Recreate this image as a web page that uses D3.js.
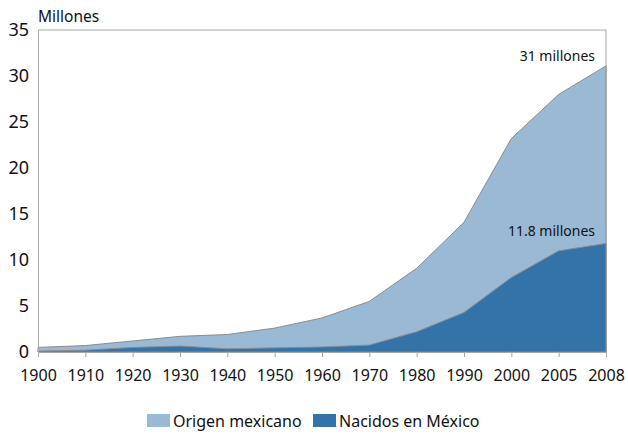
<!DOCTYPE html>
<html>
<head>
<meta charset="utf-8">
<script src="https://cdn.jsdelivr.net/npm/d3@7"></script>
<style>
  body { margin: 0; background: #fff; }
  text { font-family: "Noto Sans", "Open Sans", sans-serif; fill: #111; }
</style>
</head>
<body>
<svg id="chart" width="628" height="434"></svg>
<script>
// years on the x axis (equally spaced categories)
var years = ["1900","1910","1920","1930","1940","1950","1960","1970","1980","1990","2000","2005","2008"];
// millions
var origenMexicano = [0.5, 0.7, 1.2, 1.7, 1.9, 2.6, 3.7, 5.5, 9.1, 14.1, 23.2, 28.0, 31.1];
var nacidosMexico  = [0.1, 0.2, 0.5, 0.65, 0.35, 0.45, 0.55, 0.75, 2.2, 4.3, 8.1, 11.0, 11.8];
var yTicks = [0, 5, 10, 15, 20, 25, 30, 35];
var seriesNames = ["Origen mexicano", "Nacidos en México"];
var colors = ["#99b9d5", "#3473a8"];

// plot box (note: "top" is taken by window.top)
var plotL = 38, plotR = 606, plotT = 30, plotB = 352;

var svg = d3.select("#chart");

var x = d3.scalePoint().domain(years).range([plotL, plotR]);
var y = d3.scaleLinear().domain([0, 35]).range([plotB, plotT]);

// plot frame (top and right)
svg.append("path")
  .attr("d", "M" + plotL + "," + plotT + "H" + plotR + "V" + plotB)
  .attr("fill", "none")
  .attr("stroke", "#a6a6a6")
  .attr("stroke-width", 1);

function drawArea(vals, color) {
  var area = d3.area()
    .x(function(d, i) { return x(years[i]); })
    .y0(y(0))
    .y1(function(d) { return y(d); });
  svg.append("path")
    .datum(vals)
    .attr("d", area)
    .attr("fill", color)
    .attr("stroke", "#8c8c8c")
    .attr("stroke-width", 1);
}
drawArea(origenMexicano, colors[0]);
drawArea(nacidosMexico, colors[1]);

// y axis
var yAxis = svg.append("g")
  .attr("transform", "translate(" + plotL + ",0)")
  .call(d3.axisLeft(y).tickValues(yTicks).tickSize(0).tickPadding(9));
yAxis.select(".domain").attr("stroke", "#a6a6a6");
yAxis.selectAll("text").style("font-size", "18px").attr("fill", "#111")
  .style("font-family", "'Noto Sans', sans-serif");

// x axis
var xAxis = svg.append("g")
  .attr("transform", "translate(0," + plotB + ")")
  .call(d3.axisBottom(x).tickSizeInner(5).tickSizeOuter(0).tickPadding(13));
xAxis.select(".domain").attr("stroke", "#a6a6a6");
xAxis.selectAll(".tick line").attr("stroke", "#a6a6a6");
xAxis.selectAll("text").style("font-size", "16px").attr("fill", "#111")
  .style("font-family", "'Noto Sans', sans-serif");

svg.append("text")
  .attr("x", plotL).attr("y", 22)
  .style("font-size", "15.5px")
  .text("Millones");

// annotations at 2008
svg.append("text")
  .attr("x", 595).attr("y", y(origenMexicano[12]) - 5)
  .attr("text-anchor", "end")
  .style("font-size", "14px")
  .text("31 millones");
svg.append("text")
  .attr("x", 595).attr("y", y(nacidosMexico[12]) - 7)
  .attr("text-anchor", "end")
  .style("font-size", "14px")
  .text("11.8 millones");

// legend
var legendX = [147, 313];
seriesNames.forEach(function(name, i) {
  svg.append("rect")
    .attr("x", legendX[i]).attr("y", 414)
    .attr("width", 23).attr("height", 13)
    .attr("fill", colors[i]);
  svg.append("text")
    .attr("x", legendX[i] + 26).attr("y", 427)
    .style("font-size", "16px")
    .text(name);
});
</script>
</body>
</html>
